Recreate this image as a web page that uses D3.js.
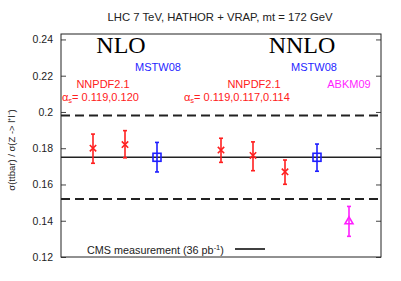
<!DOCTYPE html>
<html>
<head>
<meta charset="utf-8">
<script src="https://cdn.jsdelivr.net/npm/d3@7"></script>
<style>
  body { margin: 0; background: #fff; }
  svg { font-family: "Liberation Sans", Arial, sans-serif; }
</style>
</head>
<body>
<svg id="chart" width="401" height="281"></svg>
<script>
// data
const xPos = [1, 2, 3, 5, 6, 7, 8, 9];
const central = [0.180, 0.182, 0.175, 0.179, 0.176, 0.167, 0.175, 0.1397];
const errUp = [0.0078, 0.0077, 0.0082, 0.0065, 0.0075, 0.0065, 0.0073, 0.0082];
const errDown = [0.0083, 0.0073, 0.0081, 0.0068, 0.0084, 0.0069, 0.0077, 0.0083];
const pdfSet = ["NNPDF", "NNPDF", "MSTW", "NNPDF", "NNPDF", "NNPDF", "MSTW", "ABKM"];
const yTicks = [0.12, 0.14, 0.16, 0.18, 0.2, 0.22, 0.24];
const cmsValue = 0.175;
const cmsBand = [0.152, 0.198];

const colors = { NNPDF: "#ff2020", MSTW: "#1f1fff", ABKM: "#ff1fff" };

const svg = d3.select("#chart");
const margin = { top: 34, right: 20, bottom: 24, left: 61 };
const width = 401, height = 281;
const iw = width - margin.left - margin.right;
const ih = height - margin.top - margin.bottom;

const x = d3.scaleLinear().domain([0, 10]).range([0, iw]);
const y = d3.scaleLinear().domain([0.12, 0.243]).range([ih, 0]);

const g = svg.append("g").attr("transform", `translate(${margin.left},${margin.top})`);

// Title
svg.append("text")
  .attr("x", 220).attr("y", 21)
  .attr("text-anchor", "middle")
  .attr("font-size", "11.3px")
  .attr("fill", "#222")
  .text("LHC 7 TeV, HATHOR + VRAP, mt = 172 GeV");

// Y label
svg.append("text")
  .attr("transform", "translate(15,150) rotate(-90)")
  .attr("text-anchor", "middle")
  .attr("font-size", "9.5px")
  .attr("fill", "#222")
  .text("σ(ttbar) / σ(Z -> l⁺l⁻)");

// Axes (ticks inside, mirrored on right)
const yAxis = d3.axisLeft(y).tickValues(yTicks).tickSize(-5).tickPadding(8)
  .tickFormat(d => d === 0.2 ? "0.2" : d3.format(".2f")(d));
const ya = g.append("g").call(yAxis);
ya.select(".domain").remove();
ya.selectAll("text").attr("font-size", "10.5px").attr("fill", "#222").attr("font-family", null);
ya.selectAll("line").attr("stroke", "#444");

const yr = g.append("g").attr("transform", `translate(${iw},0)`)
  .call(d3.axisRight(y).tickValues(yTicks).tickSize(-5).tickFormat(""));
yr.select(".domain").remove();
yr.selectAll("line").attr("stroke", "#444");

g.append("rect")
  .attr("width", iw).attr("height", ih)
  .attr("fill", "none").attr("stroke", "#222").attr("stroke-width", 1);

// CMS lines
g.append("line")
  .attr("x1", 0).attr("x2", iw)
  .attr("y1", y(cmsValue)).attr("y2", y(cmsValue))
  .attr("stroke", "#222").attr("stroke-width", 1.6);

g.selectAll(".band")
  .data(cmsBand)
  .enter()
  .append("line")
  .attr("class", "band")
  .attr("x1", 0).attr("x2", iw)
  .attr("y1", d => y(d)).attr("y2", d => y(d))
  .attr("stroke", "#222").attr("stroke-width", 2)
  .attr("stroke-dasharray", "9,5");

// Points
const pts = xPos.map((p, i) => ({ x: p, v: central[i], up: errUp[i], dn: errDown[i], set: pdfSet[i] }));

const pg = g.selectAll(".pt")
  .data(pts)
  .enter()
  .append("g")
  .attr("class", "pt")
  .attr("stroke", d => colors[d.set])
  .attr("stroke-width", 1.6)
  .attr("fill", "none");

pg.append("line")
  .attr("x1", d => x(d.x)).attr("x2", d => x(d.x))
  .attr("y1", d => y(d.v + d.up)).attr("y2", d => y(d.v - d.dn));
pg.append("line")
  .attr("x1", d => x(d.x) - 2).attr("x2", d => x(d.x) + 2)
  .attr("y1", d => y(d.v + d.up)).attr("y2", d => y(d.v + d.up));
pg.append("line")
  .attr("x1", d => x(d.x) - 2).attr("x2", d => x(d.x) + 2)
  .attr("y1", d => y(d.v - d.dn)).attr("y2", d => y(d.v - d.dn));

pg.filter(d => d.set === "NNPDF").append("path")
  .attr("d", d => {
    const cx = x(d.x), cy = y(d.v), s = 3.2;
    return `M${cx - s},${cy - s}L${cx + s},${cy + s}M${cx - s},${cy + s}L${cx + s},${cy - s}`;
  });

pg.filter(d => d.set === "MSTW").append("rect")
  .attr("x", d => x(d.x) - 4).attr("y", d => y(d.v) - 4)
  .attr("width", 8).attr("height", 8);

pg.filter(d => d.set === "ABKM").append("path")
  .attr("d", d => {
    const cx = x(d.x), cy = y(d.v);
    return `M${cx},${cy - 4.5}L${cx + 4},${cy + 2.5}L${cx - 4},${cy + 2.5}Z`;
  });

// Labels
const labels = [
  { t: "NLO", x: 121, y: 53, c: "#000", s: 24, serif: true },
  { t: "NNLO", x: 302, y: 53, c: "#000", s: 24, serif: true },
  { t: "MSTW08", x: 158, y: 71, c: colors.MSTW, s: 11 },
  { t: "MSTW08", x: 314, y: 71, c: colors.MSTW, s: 11 },
  { t: "NNPDF2.1", x: 103, y: 88, c: colors.NNPDF, s: 11 },
  { t: "NNPDF2.1", x: 254, y: 88, c: colors.NNPDF, s: 11 },
  { t: "ABKM09", x: 349, y: 88, c: colors.ABKM, s: 11 }
];
svg.selectAll(".lbl")
  .data(labels)
  .enter()
  .append("text")
  .attr("class", "lbl")
  .attr("x", d => d.x).attr("y", d => d.y)
  .attr("text-anchor", "middle")
  .attr("font-size", d => d.s + "px")
  .style("font-family", d => d.serif ? "'Liberation Serif', 'Times New Roman', serif" : null)
  .attr("fill", d => d.c)
  .text(d => d.t);

const alphaLabels = [
  { x: 62, t: "= 0.119,0.120" },
  { x: 184, t: "= 0.119,0.117,0.114" }
];
alphaLabels.forEach(a => {
  const t = svg.append("text")
    .attr("x", a.x).attr("y", 101)
    .attr("font-size", "11px")
    .attr("fill", colors.NNPDF);
  t.append("tspan").text("α");
  t.append("tspan").attr("font-size", "7.5px").attr("dy", 2).text("s");
  t.append("tspan").attr("dy", -2).text(a.t);
});

// Legend
const leg = svg.append("text")
  .attr("x", 87).attr("y", 254)
  .attr("font-size", "10.8px")
  .attr("fill", "#222");
leg.append("tspan").text("CMS measurement (36 pb");
leg.append("tspan").attr("font-size", "7.5px").attr("dy", -4).text("-1");
leg.append("tspan").attr("dy", 4).text(")");
svg.append("line")
  .attr("x1", 235).attr("x2", 265)
  .attr("y1", 249).attr("y2", 249)
  .attr("stroke", "#111").attr("stroke-width", 1.6);
</script>
</body>
</html>
